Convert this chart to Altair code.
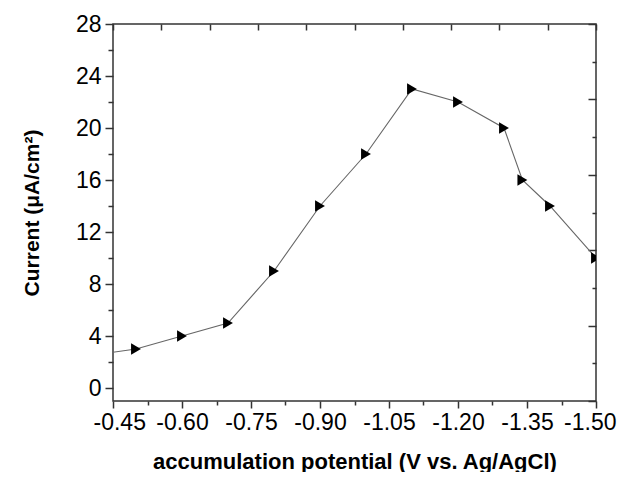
import altair as alt
import pandas as pd

# data
potential = [-0.40, -0.50, -0.60, -0.70, -0.80, -0.90, -1.00, -1.10, -1.20, -1.30, -1.34, -1.40, -1.50]
current = [2.5, 3, 4, 5, 9, 14, 18, 23, 22, 20, 16, 14, 10]

x_major = [-0.45, -0.60, -0.75, -0.90, -1.05, -1.20, -1.35, -1.50]
x_minor = [-0.525, -0.675, -0.825, -0.975, -1.125, -1.275, -1.425]
x_top = [-0.45, -0.555, -0.66, -0.765, -0.87, -0.975, -1.08, -1.185, -1.29, -1.395, -1.50]
y_major = [0, 4, 8, 12, 16, 20, 24, 28]
y_minor = [2, 6, 10, 14, 18, 22, 26]
y_right_major = [-1, 4.8, 10.6, 16.4, 22.2, 28]
y_right_minor = [1.9, 7.7, 13.5, 19.3, 25.1]

df = pd.DataFrame({"x": potential, "y": current})

FONT = "Liberation Sans"
TC = "#333333"
xs = alt.Scale(domain=[-1.50, -0.45], reverse=True, nice=False, zero=False)
ys = alt.Scale(domain=[-1, 28], nice=False, zero=False)


def ax(orient, values, size, offset=0, labels=False, title="", **kw):
    opts = dict(orient=orient, values=values, tickSize=size, tickWidth=1.5,
                tickColor=TC, domain=False, grid=False, labels=labels,
                title=title, offset=offset)
    opts.update(kw)
    return alt.Axis(**opts)


main_x = ax("bottom", x_major, 7, labels=True,
            title="accumulation potential (V vs. Ag/AgCl)",
            labelFont=FONT, labelFontSize=23, labelColor="black", labelPadding=3,
            labelFlush=True, labelFlushOffset=20, labelOverlap=False,
            labelExpr="replace(format(datum.value, '.2f'), '\u2212', '-')",
            titleFont=FONT, titleFontSize=22, titleFontWeight="bold",
            titleColor="black", titlePadding=17)
main_y = ax("left", y_major, 8, labels=True,
            title="Current (\u03bcA/cm\u00b2)",
            labelFont=FONT, labelFontSize=23, labelColor="black", labelPadding=4,
            labelFlush=False, labelOverlap=False,
            titleFont=FONT, titleFontSize=21, titleFontWeight="bold",
            titleColor="black", titlePadding=33)

line = alt.Chart(df).mark_line(color="#666666", strokeWidth=1.1, clip=True).encode(
    x=alt.X("x:Q", scale=xs, axis=main_x),
    y=alt.Y("y:Q", scale=ys, axis=main_y),
)
pts = alt.Chart(df).mark_point(shape="triangle-right", filled=True, color="black",
                               size=130, opacity=1, clip=True).encode(
    x=alt.X("x:Q", scale=xs, axis=None),
    y=alt.Y("y:Q", scale=ys, axis=None),
)


def guide(xaxis, yaxis):
    return alt.Chart(df).mark_point(opacity=0).encode(
        x=alt.X("x:Q", scale=xs, axis=xaxis),
        y=alt.Y("y:Q", scale=ys, axis=yaxis),
    )


g1 = guide(ax("bottom", x_minor, 4), ax("left", y_minor, 5))
g2 = guide(ax("top", x_top, 6, offset=-6), ax("right", y_right_major, 8, offset=-8))
g3 = guide(ax("top", x_top, 0.1, offset=-0.1), ax("right", y_right_minor, 4, offset=-4))

chart = (
    alt.layer(line, pts, g1, g2, g3)
    .resolve_scale(x="independent", y="independent")
    .resolve_axis(x="independent", y="independent")
    .properties(width=483, height=377,
                autosize=alt.AutoSizeParams(type="none"),
                padding={"left": 105, "top": 16, "right": 21, "bottom": 71},
                background="white")
    .configure_view(stroke=TC, strokeWidth=1.5)
)

chart.save("out.html", embed_options={"renderer": "svg", "actions": False})
